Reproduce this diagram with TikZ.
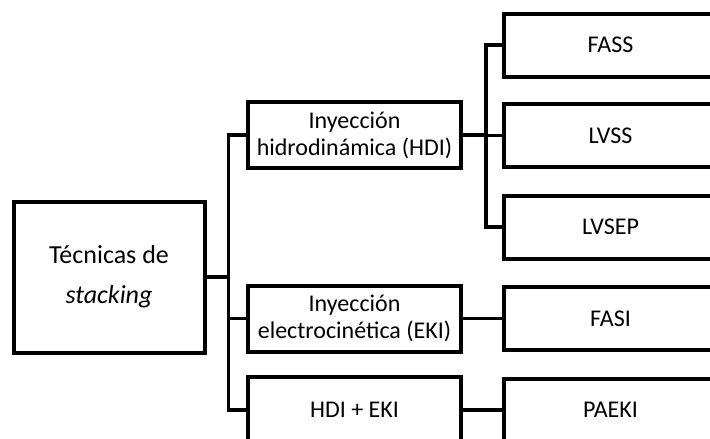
\documentclass[tikz,border=0pt]{standalone}
\usepackage{fontspec}
\setmainfont{Carlito}
\usetikzlibrary{positioning}
\tikzset{
  box/.style={draw=black,fill=white,line width=4pt,align=center,inner sep=2pt,font=\fontsize{24}{27}\selectfont,minimum height=63pt},
  boxm/.style={box,minimum width=191pt,minimum height=151pt,font=\fontsize{26}{30}\selectfont},
  boxs/.style={box,minimum width=213pt},
  link/.style={line width=3.6pt},
}
\begin{document}
\begin{tikzpicture}[x=1pt,y=-1pt]
\useasboundingbox (0,0) rectangle (710,439);
\clip (0,0) rectangle (710,439);
\node[boxm] (tec) at (109,277) {Técnicas de\\[10pt]\textit{stacking}};
\node[boxs,minimum height=66pt] (hdi) at (354.5,135) {Inyección\\hidrodinámica (HDI)};
\node[boxs,minimum height=66pt] (eki) at (354.5,318.5) {Inyección\\electrocinética (EKI)};
\node[boxs,minimum height=66pt] (mix) at (354.5,410) {HDI + EKI};
\node[boxs] (fass) at (610.5,45) {FASS};
\node[boxs] (lvss) at (610.5,135.5) {LVSS};
\node[boxs] (lvsep) at (610.5,227) {LVSEP};
\node[boxs] (fasi) at (610.5,318.5) {FASI};
\node[boxs] (paeki) at (610.5,410) {PAEKI};
\draw[link](tec.east)--++(22,0)|-(hdi.west);\draw[link](tec.east)--++(22,0)|-(eki.west);\draw[link](tec.east)--++(22,0)|-(mix.west);
\draw[link](hdi.east)--++(23,0)|-(fass.west);\draw[link](hdi.east)--++(23,0)|-(lvss.west);\draw[link](hdi.east)--++(23,0)|-(lvsep.west);
\draw[link](eki.east)--(fasi.west);\draw[link](mix.east)--(paeki.west);
\end{tikzpicture}
\end{document}
